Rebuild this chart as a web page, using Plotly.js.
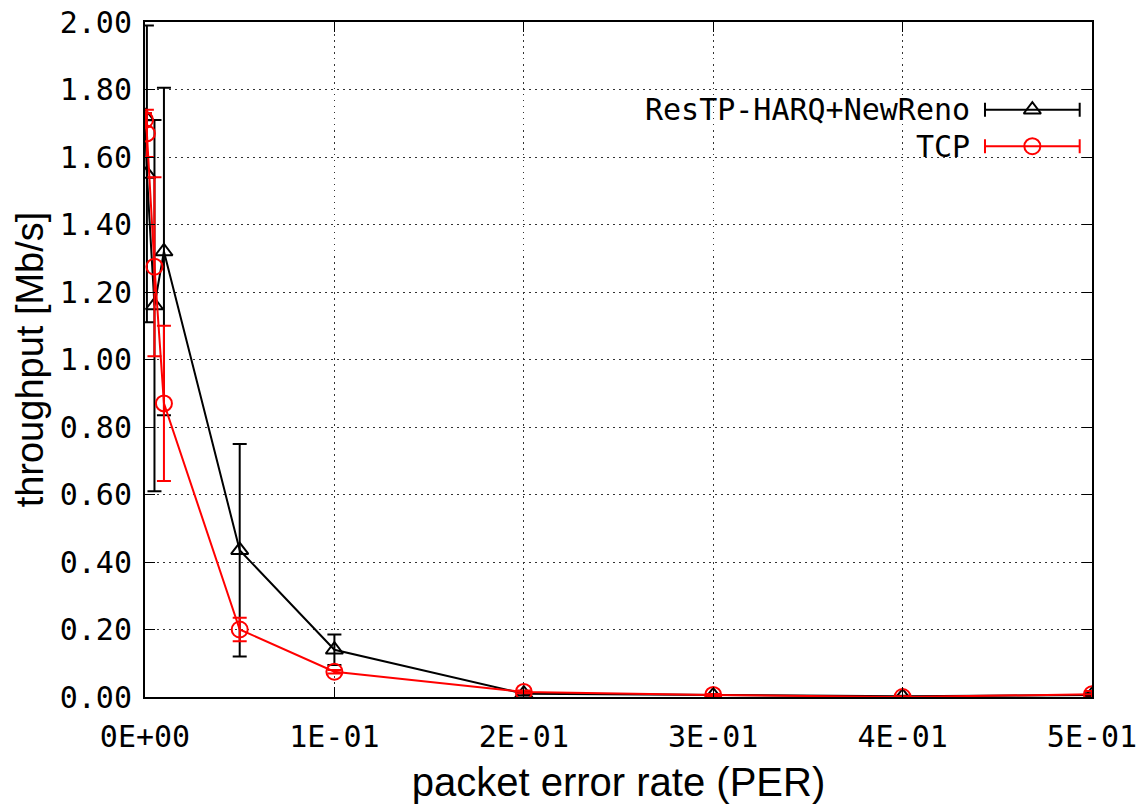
<!DOCTYPE html>
<html>
<head>
<meta charset="utf-8">
<script src="https://cdn.plot.ly/plotly-3.0.1.min.js"></script>
<style>html,body{margin:0;padding:0;background:#fff;}#chart{width:1148px;height:807px;}</style>
</head>
<body>
<div id="chart"></div>
<script>
// data
const per = [0, 0.001, 0.005, 0.01, 0.05, 0.1, 0.2, 0.3, 0.4, 0.5];
const harqThroughput = [1.72, 1.55, 1.16, 1.32, 0.435, 0.14, 0.01, 0.005, 0.002, 0.006];
const harqError = [0.01, 0.44, 0.55, 0.485, 0.315, 0.045, 0.005, 0.003, 0.002, 0.005];
const tcpThroughput = [1.71, 1.67, 1.275, 0.87, 0.20, 0.075, 0.015, 0.006, 0.0, 0.008];
const tcpError = [0.02, 0.07, 0.265, 0.23, 0.035, 0.005, 0.004, 0.003, 0.002, 0.01];
const seriesNames = ['ResTP-HARQ+NewReno', 'TCP'];
const xTickVals = [0, 0.1, 0.2, 0.3, 0.4, 0.5];
const xTickText = ['0E+00', '1E-01', '2E-01', '3E-01', '4E-01', '5E-01'];
const yTickVals = [0, 0.2, 0.4, 0.6, 0.8, 1.0, 1.2, 1.4, 1.6, 1.8, 2.0];
const yTickText = ['0.00', '0.20', '0.40', '0.60', '0.80', '1.00', '1.20', '1.40', '1.60', '1.80', '2.00'];

const colors = ['#000000', '#ff0000'];
const symbols = ['triangle-up-open', 'circle-open'];

const traces = [
  {
    x: per, y: harqThroughput, type: 'scatter', mode: 'lines+markers', name: seriesNames[0],
    line: {color: colors[0], width: 2},
    marker: {symbol: symbols[0], size: 15, color: colors[0], line: {width: 2}},
    error_y: {type: 'data', array: harqError, visible: true, color: colors[0], thickness: 2, width: 7},
    showlegend: false
  },
  {
    x: per, y: tcpThroughput, type: 'scatter', mode: 'lines+markers', name: seriesNames[1],
    line: {color: colors[1], width: 2},
    marker: {symbol: symbols[1], size: 16, color: colors[1], line: {width: 2}},
    error_y: {type: 'data', array: tcpError, visible: true, color: colors[1], thickness: 2, width: 7},
    showlegend: false
  }
];

// legend samples (gnuplot style: text right-aligned, sample on the right)
const legRows = [0.870, 0.816];
seriesNames.forEach((n, i) => {
  traces.push({
    x: [0.937], y: [legRows[i]], xaxis: 'x2', yaxis: 'y2', type: 'scatter', mode: 'markers',
    marker: {symbol: symbols[i], size: i === 0 ? 15 : 16, color: colors[i], line: {width: 2}},
    error_x: {type: 'constant', value: 0.05, color: colors[i], thickness: 2, width: 7},
    showlegend: false, hoverinfo: 'skip'
  });
});

const annotations = seriesNames.map((n, i) => ({
  xref: 'paper', yref: 'paper', x: 0.873, y: legRows[i], xanchor: 'right', yanchor: 'middle',
  text: n, showarrow: false, font: {family: 'DejaVu Sans Mono', size: 30, color: '#000'}
}));

const layout = {
  width: 1148, height: 807,
  margin: {l: 145, r: 56, t: 22, b: 110},
  paper_bgcolor: '#fff', plot_bgcolor: '#fff',
  showlegend: false,
  xaxis: {
    range: [0, 0.5], tickvals: xTickVals, ticktext: xTickText,
    tickfont: {family: 'DejaVu Sans Mono', size: 30, color: '#000'},
    ticklabelstandoff: 12,
    showgrid: true, gridcolor: '#333', griddash: '1.5px,4.5px', gridwidth: 1,
    zeroline: false, showline: true, linecolor: '#000', linewidth: 2, mirror: 'allticks',
    ticks: 'inside', ticklen: 10, tickcolor: '#000', tickwidth: 1,
    title: {text: 'packet error rate (PER)', font: {family: 'Liberation Sans', size: 40, color: '#000'}, standoff: 15}
  },
  yaxis: {
    range: [0, 2], tickvals: yTickVals, ticktext: yTickText,
    tickfont: {family: 'DejaVu Sans Mono', size: 30, color: '#000'},
    ticklabelstandoff: 5,
    showgrid: true, gridcolor: '#333', griddash: '1.5px,4.5px', gridwidth: 1,
    zeroline: false, showline: true, linecolor: '#000', linewidth: 2, mirror: 'allticks',
    ticks: 'inside', ticklen: 10, tickcolor: '#000', tickwidth: 1,
    title: {text: 'throughput [Mb/s]', font: {family: 'Liberation Sans', size: 38, color: '#000'}, standoff: 4}
  },
  xaxis2: {domain: [0, 1], range: [0, 1], overlaying: 'x', visible: false, fixedrange: true},
  yaxis2: {domain: [0, 1], range: [0, 1], overlaying: 'y', visible: false, fixedrange: true, anchor: 'x2'},
  annotations: annotations
};

Plotly.newPlot('chart', traces, layout, {displayModeBar: false, staticPlot: true});
</script>
</body>
</html>
